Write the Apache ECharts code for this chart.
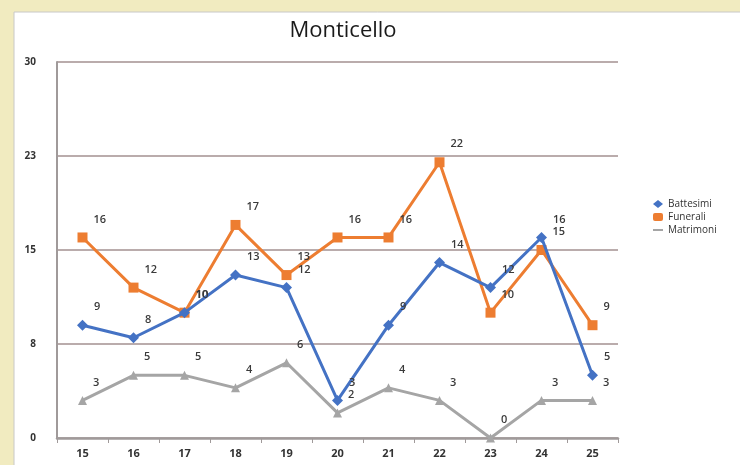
<!DOCTYPE html>
<html><head><meta charset="utf-8">
<script src="https://cdn.jsdelivr.net/npm/echarts@6/dist/echarts.min.js"></script>
<style>html,body{margin:0;padding:0;background:#f1ebc0;}#c{width:740px;height:465px;}</style>
</head><body><div id="c"></div>
<script>
var categories = ['15','16','17','18','19','20','21','22','23','24','25'];
var battesimi = [9, 8, 10, 13, 12, 3, 9, 14, 12, 16, 5];
var funerali  = [16, 12, 10, 17, 13, 16, 16, 22, 10, 15, 9];
var matrimoni = [3, 5, 5, 4, 6, 2, 4, 3, 0, 3, 3];

var chart = echarts.init(document.getElementById('c'));
var lbl = {show:true, position:'right', distance:4, offset:[2,-18], color:'#3a3a3a', fontSize:11, fontFamily:'Open Sans', fontWeight:600};
chart.setOption({
  backgroundColor:'#f1ebc0',
  animation:false,
  graphic:[{type:'rect', shape:{x:14,y:12,width:740,height:470}, style:{fill:'#ffffff', stroke:'#c8c8c8', lineWidth:1}, z:-10}],
  title:{text:'Monticello', left:338, top:15, textAlign:'center',
    textStyle:{fontFamily:'Open Sans', fontSize:22, fontWeight:500, color:'#1a1a1a'}},
  legend:{orient:'vertical', left:648, top:194, itemGap:3, itemWidth:10, itemHeight:8,
    textStyle:{fontFamily:'Open Sans', fontSize:10, color:'#333'},
    data:[{name:'Battesimi', icon:'diamond'},{name:'Funerali', icon:'roundRect'},{name:'Matrimoni', icon:'path://M0,4L10,4L10,6L0,6Z'}]},
  grid:{left:57, right:122, top:62, bottom:27},
  xAxis:{type:'category', data:categories, boundaryGap:true,
    axisLine:{lineStyle:{color:'#a09a9a', width:2.5}},
    axisTick:{show:true, length:5, lineStyle:{color:'#a09a9a'}},
    axisLabel:{color:'#333', fontSize:11, fontFamily:'Open Sans', fontWeight:'bold', margin:10}},
  yAxis:{type:'value', min:0, max:30, interval:7.5,
    axisLine:{show:true, lineStyle:{color:'#a09a9a', width:2}},
    axisTick:{show:false},
    splitLine:{lineStyle:{color:'#a39090', width:1.5}},
    axisLabel:{color:'#333', fontSize:10, fontFamily:'Open Sans', fontWeight:'bold', margin:21,
      formatter:function(v){return String(Math.round(v));}}},
  series:[
    {name:'Battesimi', type:'line', data:battesimi, symbol:'diamond', symbolSize:11,
     itemStyle:{color:'#4472c4'}, lineStyle:{width:3, color:'#4472c4'}, label:lbl, z:3},
    {name:'Funerali', type:'line', data:funerali, symbol:'rect', symbolSize:10,
     itemStyle:{color:'#ed7d31'}, lineStyle:{width:3, color:'#ed7d31'}, label:lbl, z:2},
    {name:'Matrimoni', type:'line', data:matrimoni, symbol:'triangle', symbolSize:9,
     itemStyle:{color:'#a5a5a5'}, lineStyle:{width:3, color:'#a5a5a5'}, label:lbl, z:1}
  ]
});
</script></body></html>
